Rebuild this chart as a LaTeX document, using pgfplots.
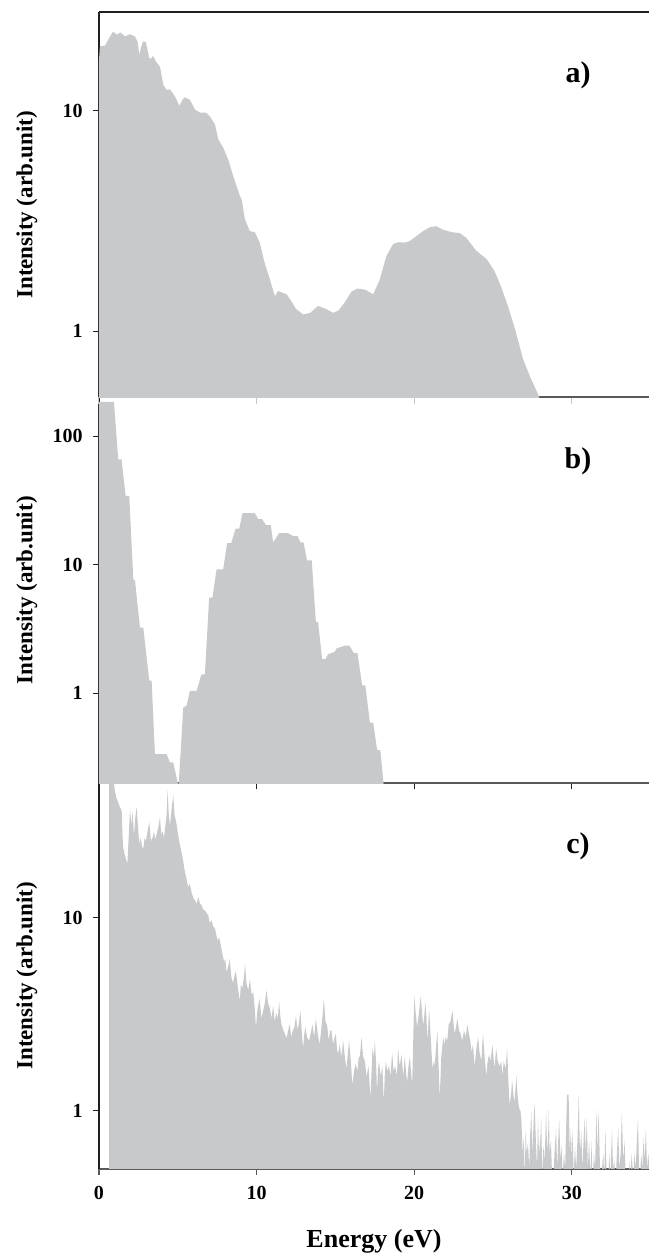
\documentclass[border=0pt]{standalone}
\usepackage{fontspec}
\setmainfont{Liberation Serif}
\usepackage{pgfplots}
\pgfplotsset{compat=1.18}
\definecolor{specGray}{HTML}{C8C9CB}
\definecolor{axisDark}{HTML}{231F20}
\definecolor{axisGray}{HTML}{58595B}

\pgfplotsset{
  specpanel/.style={
    scale only axis, width=275pt, height=192.75pt,
    xmin=0, xmax=34.9,
    axis x line*=bottom, axis y line*=left,
    axis line style={-},
    x axis line style={axisGray, line width=1pt},
    y axis line style={axisDark, line width=0.6pt},
    tick align=outside, major tick length=3.2pt,
    yminorticks=false, xminorticks=false,
    xtick={0,10,20,30}, xticklabels={},
    y tick style={axisDark, line width=0.6pt},
    x tick style={axisGray, line width=0.6pt},
    ticklabel style={font=\fontsize{10}{12}\selectfont\bfseries},
    yticklabel style={xshift=-1.5pt},
    ylabel={Intensity (arb.unit)},
    ylabel style={at={(axis description cs:-0.131,0.5)}, anchor=center,
                  font=\fontsize{11.5}{13}\selectfont\bfseries},
  },
}
\tikzset{plab/.style={font=\fontsize{15}{18}\selectfont\bfseries}}

\begin{document}
\begin{tikzpicture}

% c) bottom panel
\begin{axis}[ymode=log, specpanel, name=C, at={(0,0)}, anchor=south west,
  ymin=0.5, ymax=50, ytick={1,10}, yticklabels={1,10},
  xticklabels={0,10,20,30},
  xticklabel style={yshift=-2pt},
  xlabel={Energy (eV)},
  xlabel style={at={(axis description cs:0.5,-0.19)}, anchor=center,
                font=\fontsize{13}{15}\selectfont\bfseries},
]
\addplot[fill=specGray, draw=none] coordinates {
(0.65,0.01)(0.65,80)(0.85,60)(1.0,46)(1.1,42)(1.2,40)(1.3,38)(1.44,36)(1.5,26)(1.54,23)
(1.65,21)(1.8,19)(1.9,28)(1.97,37)(2.05,30)(2.13,35.5)(2.22,26.7)(2.3,33)(2.39,37.5)(2.47,30)
(2.56,24.2)(2.65,26)(2.72,23.5)(2.81,22.8)(2.9,26)(2.98,25.1)(3.08,28)(3.19,31.3)(3.3,25)(3.4,26)
(3.49,27.9)(3.57,25.5)(3.65,27)(3.75,29)(3.87,33.2)(3.95,27)(4.04,28)(4.12,26)(4.2,29.5)(4.28,33)
(4.35,46)(4.42,35)(4.5,30)(4.6,36)(4.71,43.4)(4.8,34)(4.9,31.3)(5.03,26.7)(5.13,24)(5.24,21.9)
(5.35,19.5)(5.45,17.3)(5.55,16)(5.66,14.4)(5.76,15)(5.87,13.6)(5.98,12.7)(6.09,12.3)(6.2,11.8)(6.3,12.8)
(6.4,11.9)(6.51,11.6)(6.62,11.0)(6.72,10.9)(6.82,10.6)(6.93,10.3)(7.03,9.4)(7.14,9.7)(7.25,9.0)(7.36,8.8)
(7.45,8.1)(7.52,7.6)(7.62,7.9)(7.73,7.2)(7.84,6.4)(7.95,5.9)(8.02,6.1)(8.09,5.2)(8.2,5.6)(8.3,6.1)
(8.4,4.9)(8.49,4.6)(8.6,5.0)(8.69,5.3)(8.8,4.4)(8.94,3.7)(9.0,4.5)(9.1,4.3)(9.2,4.9)(9.26,5.8)
(9.35,4.6)(9.47,4.2)(9.58,4.8)(9.68,4.0)(9.79,4.1)(9.88,3.4)(9.96,2.7)(10.05,3.3)(10.17,3.8)(10.25,3.4)
(10.3,3.0)(10.42,3.3)(10.52,3.6)(10.63,4.2)(10.73,3.6)(10.84,3.4)(10.95,3.0)(11.05,3.5)(11.15,2.9)(11.26,3.2)
(11.35,3.0)(11.43,3.7)(11.5,3.1)(11.58,2.8)(11.7,2.6)(11.8,2.5)(11.9,2.36)(12.0,2.6)(12.1,2.8)(12.2,2.4)
(12.3,2.6)(12.4,2.7)(12.5,3.1)(12.6,2.6)(12.7,2.9)(12.78,3.3)(12.86,2.6)(12.95,2.1)(13.03,2.5)(13.1,2.7)
(13.2,2.4)(13.33,2.3)(13.43,2.5)(13.54,2.8)(13.65,2.4)(13.76,3.0)(13.88,2.5)(14.0,2.2)(14.1,2.6)(14.2,3.2)
(14.27,3.8)(14.37,2.9)(14.48,2.75)(14.58,2.3)(14.66,2.6)(14.75,2.6)(14.85,2.2)(14.95,2.4)(15.03,2.5)(15.1,2.1)
(15.17,1.95)(15.27,2.2)(15.38,1.9)(15.5,2.3)(15.6,1.9)(15.7,1.65)(15.8,2.0)(15.87,2.3)(15.98,1.8)(16.08,1.35)
(16.18,1.6)(16.29,1.75)(16.4,1.6)(16.48,1.9)(16.55,1.9)(16.66,2.4)(16.76,1.9)(16.87,1.8)(16.98,1.5)(17.1,1.7)
(17.23,1.15)(17.35,2.11)(17.45,1.9)(17.5,2.31)(17.58,1.8)(17.64,1.25)(17.7,1.6)(17.77,1.8)(17.88,1.5)(17.98,1.7)
(18.07,1.1)(18.13,1.5)(18.2,1.8)(18.3,1.6)(18.41,1.7)(18.5,1.5)(18.6,2.0)(18.7,1.6)(18.8,1.7)(18.9,1.5)
(18.98,2.1)(19.08,1.7)(19.2,1.95)(19.3,1.5)(19.4,1.9)(19.48,1.6)(19.55,1.4)(19.64,1.7)(19.72,1.9)(19.8,1.6)
(19.87,1.36)(19.95,2.5)(20.0,3.93)(20.1,3.2)(20.19,2.7)(20.3,3.2)(20.42,3.93)(20.5,3.2)(20.57,2.75)(20.64,3.1)
(20.71,3.66)(20.78,3.0)(20.84,2.3)(20.9,2.8)(20.95,3.35)(21.05,2.4)(21.16,1.65)(21.25,1.8)(21.3,1.7)(21.4,2.2)
(21.47,2.6)(21.55,1.7)(21.62,1.15)(21.72,1.9)(21.84,2.4)(21.92,2.2)(22.0,2.4)(22.1,2.3)(22.19,2.8)(22.3,2.9)
(22.43,3.3)(22.5,2.8)(22.57,2.5)(22.65,2.7)(22.74,3.0)(22.85,2.6)(22.95,2.5)(23.05,2.3)(23.16,2.6)(23.27,2.4)
(23.37,2.8)(23.47,2.5)(23.56,2.3)(23.65,2.0)(23.73,2.2)(23.83,1.7)(23.95,2.1)(24.05,2.4)(24.15,2.0)(24.26,1.8)
(24.32,2.2)(24.37,2.5)(24.47,1.9)(24.58,1.5)(24.66,1.8)(24.75,1.95)(24.85,1.8)(24.96,2.2)(25.03,1.9)(25.1,1.65)
(25.2,2.1)(25.3,1.8)(25.42,1.7)(25.53,1.8)(25.6,1.5)(25.68,1.8)(25.8,1.65)(25.9,2.1)(25.98,1.4)(26.06,1.06)
(26.14,1.2)(26.22,1.43)(26.3,1.2)(26.37,1.1)(26.48,1.52)(26.56,1.2)(26.65,1.03)(26.74,1.0)(26.8,0.91)(26.88,0.6)
(26.95,0.72)(27.02,0.45)(27.07,0.8)(27.14,0.6)(27.22,0.68)(27.3,0.5)(27.36,0.75)(27.43,0.98)(27.5,0.6)(27.56,0.8)
(27.64,1.1)(27.72,0.7)(27.8,0.5)(27.85,0.91)(27.92,0.6)(28.0,0.7)(28.06,0.91)(28.13,0.45)(28.2,0.66)(28.28,0.55)
(28.37,1.0)(28.44,0.6)(28.5,0.75)(28.54,1.0)(28.6,0.6)(28.68,0.7)(28.75,0.45)(28.82,0.4)(28.9,0.6)(29.0,0.8)
(29.08,0.5)(29.14,0.7)(29.2,0.91)(29.28,0.55)(29.35,0.66)(29.42,0.45)(29.5,0.6)(29.58,0.5)(29.64,0.8)(29.7,1.21)
(29.8,1.21)(29.87,0.6)(29.94,0.8)(30.0,0.55)(30.05,0.8)(30.12,0.45)(30.2,0.65)(30.28,0.5)(30.36,0.7)(30.44,1.21)
(30.52,0.6)(30.6,0.78)(30.68,0.5)(30.75,0.7)(30.82,0.91)(30.88,0.6)(30.95,0.91)(31.02,0.5)(31.1,0.7)(31.18,0.45)
(31.25,0.7)(31.32,0.4)(31.4,0.6)(31.48,0.5)(31.56,1.0)(31.63,0.6)(31.7,1.0)(31.78,0.55)(31.85,0.4)(31.92,0.5)
(32.0,0.6)(32.06,0.45)(32.13,0.8)(32.2,0.5)(32.3,0.4)(32.38,0.6)(32.45,0.45)(32.55,0.8)(32.62,0.5)(32.7,0.55)
(32.78,0.4)(32.86,0.6)(32.95,0.8)(33.02,0.5)(33.1,0.6)(33.18,1.0)(33.26,0.55)(33.35,0.7)(33.42,0.45)(33.5,0.5)
(33.56,0.4)(33.64,0.55)(33.72,0.45)(33.8,0.6)(33.9,0.45)(33.98,0.6)(34.06,0.5)(34.13,0.7)(34.2,0.91)(34.27,0.5)
(34.34,0.45)(34.4,0.6)(34.48,0.5)(34.55,0.72)(34.62,0.55)(34.7,0.8)(34.78,0.5)(34.86,0.6)(34.95,0.45)(34.95,0.01)
};
\node[plab] at (rel axis cs:0.871,0.837) {c)};
\end{axis}

% b) middle panel
\begin{axis}[ymode=log, specpanel, name=B, at={(C.north west)}, anchor=south west,
  ymin=0.2, ymax=200, ytick={1,10,100}, yticklabels={1,10,100},
  x tick style={axisDark, line width=0.6pt},
]
\addplot[fill=specGray, draw=none] coordinates {
(0,0.01)(0,185)(0.95,185)(1.22,66)(1.43,66)(1.69,34.3)(1.92,34.3)(2.18,7.6)(2.28,7.6)(2.6,3.24)
(2.81,3.24)(3.19,1.25)(3.34,1.25)(3.55,0.335)(4.29,0.335)(4.5,0.29)(4.71,0.29)(4.96,0.21)(5.05,0.19)(5.35,0.774)
(5.56,0.80)(5.77,1.04)(6.19,1.04)(6.5,1.4)(6.72,1.4)(6.99,5.55)(7.2,5.55)(7.46,9.2)(7.88,9.2)(8.13,14.7)
(8.39,14.7)(8.67,19.1)(8.9,19.1)(9.11,25.2)(9.89,25.2)(10.1,22.6)(10.35,22.6)(10.6,20.3)(10.9,20.3)(11.05,14.9)
(11.43,17.6)(12.0,17.6)(12.32,16.7)(12.6,16.7)(12.79,14.9)(12.98,14.9)(13.2,10.8)(13.5,10.8)(13.76,3.59)(13.9,3.59)
(14.16,1.84)(14.38,1.84)(14.54,2.01)(14.97,2.1)(15.07,2.23)(15.6,2.34)(15.9,2.34)(16.17,2.05)(16.4,2.05)(16.7,1.15)
(16.9,1.15)(17.19,0.59)(17.4,0.59)(17.65,0.36)(17.85,0.36)(18.07,0.19)(18.07,0.01)
};
\node[plab] at (rel axis cs:0.871,0.834) {b)};
\end{axis}

% a) top panel
\begin{axis}[ymode=log, specpanel, name=A, at={(B.north west)}, anchor=south west,
  ymin=0.5, ymax=28, ytick={1,10}, yticklabels={1,10},
  x tick style={gray!45, line width=0.5pt},
  after end axis/.code={\draw[axisDark, line width=0.6pt] (rel axis cs:0,1) -- (rel axis cs:1,1);},
]
\addplot[fill=specGray, draw=none] coordinates {
(0,0.01)(0,17.0)(0.06,19.6)(0.38,19.7)(0.7,21.7)(0.9,22.8)(1.12,22.1)(1.37,22.6)(1.65,21.7)(1.97,22.2)
(2.28,21.7)(2.45,20.5)(2.56,17.9)(2.68,19.5)(2.81,20.6)(2.98,20.4)(3.19,17.3)(3.3,17.2)(3.44,17.7)(3.61,16.7)
(3.87,15.8)(4.08,13.1)(4.29,12.4)(4.5,12.5)(4.82,11.6)(5.1,10.5)(5.3,11.2)(5.45,11.5)(5.77,11.2)(6.09,10.1)
(6.4,9.8)(6.78,9.8)(7.04,9.4)(7.36,8.65)(7.57,7.4)(7.88,6.8)(8.2,6.0)(8.52,5.04)(8.94,4.1)(9.05,3.96)
(9.26,3.21)(9.57,2.84)(9.89,2.81)(10.2,2.52)(10.5,2.05)(10.84,1.72)(11.16,1.44)(11.37,1.52)(11.58,1.50)(11.9,1.47)
(12.2,1.37)(12.5,1.26)(12.96,1.19)(13.4,1.21)(13.9,1.30)(14.4,1.26)(14.86,1.21)(15.2,1.24)(15.6,1.35)(16.02,1.51)
(16.4,1.56)(16.9,1.54)(17.4,1.47)(17.8,1.70)(18.24,2.19)(18.66,2.48)(18.98,2.53)(19.4,2.52)(19.72,2.56)(20.15,2.70)
(20.56,2.84)(20.99,2.96)(21.4,2.99)(21.8,2.89)(22.37,2.81)(22.9,2.78)(23.3,2.65)(23.95,2.31)(24.6,2.12)(25.1,1.87)
(25.5,1.60)(25.95,1.30)(26.4,1.02)(26.9,0.75)(27.4,0.61)(27.9,0.51)(28.1,0.45)(28.1,0.01)
};
\node[plab] at (rel axis cs:0.871,0.836) {a)};
\end{axis}

\pgfresetboundingbox
\path[use as bounding box] ([xshift=-49.5pt,yshift=6pt]A.north west) rectangle ([yshift=-43.25pt]C.south east);
\end{tikzpicture}
\end{document}
